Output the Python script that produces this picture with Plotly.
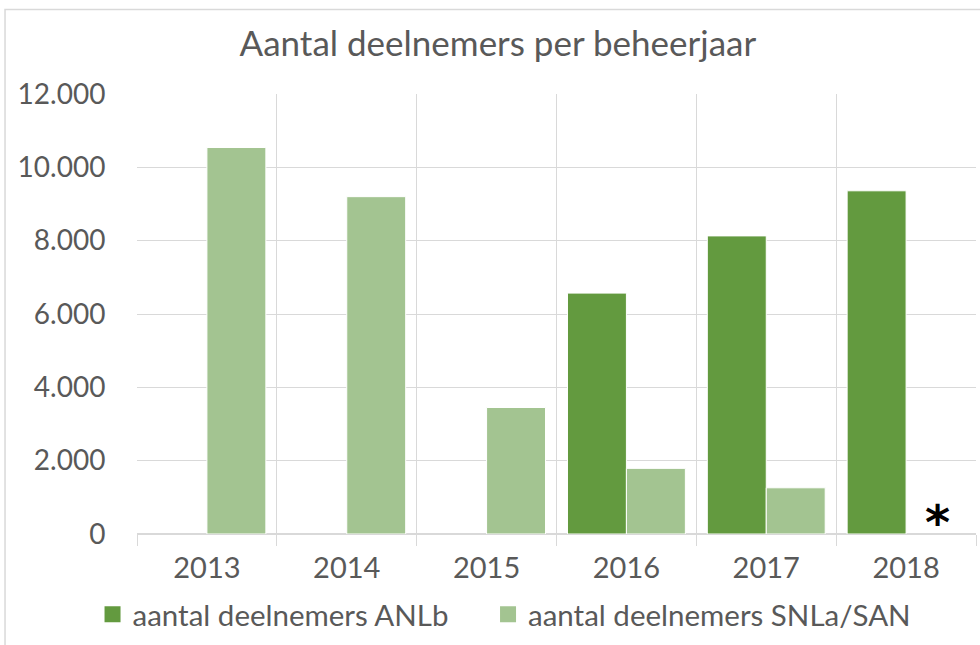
import plotly.graph_objects as go

years = ["2013", "2014", "2015", "2016", "2017", "2018"]
anlb = [None, None, None, 6570, 8130, 9360]
snla = [10540, 9200, 3450, 1790, 1260, None]
series_names = ["aantal deelnemers ANLb", "aantal deelnemers SNLa/SAN"]
series_colors = ["#639A3F", "#A3C491"]
y_ticks = [0, 2000, 4000, 6000, 8000, 10000, 12000]

FONT = "Lato, 'Open Sans', sans-serif"
GREY = "#595959"
GRID = "#d9d9d9"

fig = go.Figure()
for vals, name, col in zip([anlb, snla], series_names, series_colors):
    fig.add_trace(go.Bar(x=years, y=vals, name=name, showlegend=False,
                         marker=dict(color=col, line=dict(color="#ffffff", width=1))))
# legend proxies (bigger square swatches), one per legend box
for name, col, lg in zip(series_names, series_colors, ["legend", "legend2"]):
    fig.add_trace(go.Scatter(x=[None], y=[None], mode="markers", name=name, legend=lg,
                             marker=dict(symbol="square", size=16, color=col)))

# asterisk note for 2018 SNLa/SAN
fig.add_annotation(x=0.9547, y=0.028, xref="paper", yref="paper", text="<b>*</b>", showarrow=False,
                   xanchor="center", yanchor="middle",
                   font=dict(family="DejaVu Sans", size=48, color="#000000"))

# outer chart frame
fig.add_shape(type="rect", xref="paper", yref="paper",
              x0=-0.1573, x1=1.02, y0=-0.3, y1=1.1923,
              line=dict(color=GRID, width=1.5))

legend_style = dict(orientation="h", xanchor="left", y=-0.183, yanchor="middle",
                    font=dict(family=FONT, size=29.5, color=GREY))

fig.update_layout(
    width=980, height=645,
    margin=dict(l=137, r=4, t=94, b=109),
    paper_bgcolor="white", plot_bgcolor="white",
    separators=",.",
    barmode="group", bargap=0.157, bargroupgap=0,
    title=dict(text="Aantal deelnemers per beheerjaar", x=0.508, xanchor="center",
               y=1 - 44 / 645, yanchor="middle", yref="container",
               font=dict(family=FONT, size=35, color=GREY)),
    font=dict(family=FONT, color=GREY),
    showlegend=True,
    legend=dict(x=-0.053, **legend_style),
    legend2=dict(x=0.4184, **legend_style),
    xaxis=dict(type="category", tickson="boundaries", showgrid=True, gridcolor=GRID, gridwidth=1,
               ticks="outside", ticklen=11, tickcolor=GRID, showline=True, linecolor=GRID,
               tickangle=0, tickfont=dict(family=FONT, size=29, color=GREY),
               ticklabelstandoff=8),
    yaxis=dict(range=[0, 12000], tickvals=y_ticks, tickformat=",d", showgrid=True,
               gridcolor=GRID, gridwidth=1, zeroline=True, zerolinecolor=GRID, showline=False,
               ticks="outside", ticklen=25, tickcolor="rgba(0,0,0,0)",
               tickfont=dict(family=FONT, size=28, color=GREY)),
)

fig.write_html("out.html", config={"displayModeBar": False},
               post_script="document.body.style.margin='0';")
